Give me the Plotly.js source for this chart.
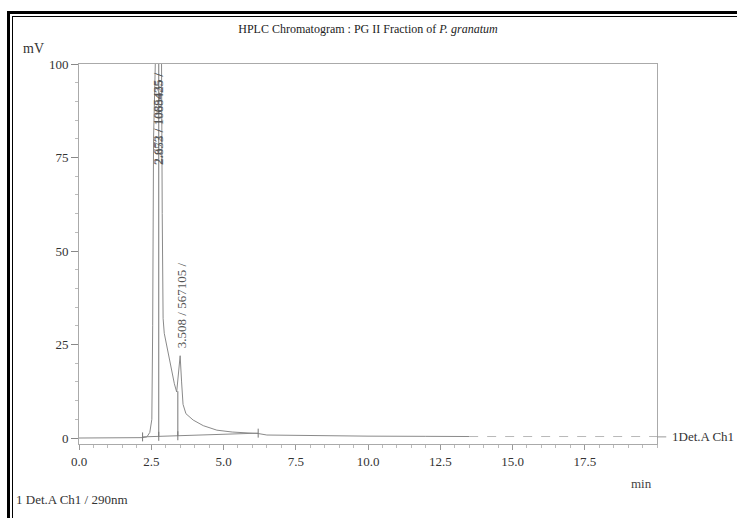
<!DOCTYPE html>
<html>
<head>
<meta charset="utf-8">
<script src="https://cdn.plot.ly/plotly-3.0.1.min.js"></script>
<style>
html,body{margin:0;padding:0;background:#fff;}
#wrap{position:relative;width:737px;height:518px;overflow:hidden;}
#chart{width:737px;height:518px;}
.fr{position:absolute;background:#000;}
</style>
</head>
<body>
<div id="wrap">
<div id="chart"></div>
<div class="fr" style="left:7px;top:11px;width:3px;height:507px;"></div>
<div class="fr" style="left:12px;top:16px;width:1px;height:502px;"></div>
<div class="fr" style="left:7px;top:11px;width:730px;height:3px;"></div>
<div class="fr" style="left:12px;top:16px;width:725px;height:1px;"></div>
</div>
<script>
// Chromatogram trace (time in min, signal in mV)
const timeMin = [0, 1.0, 2.0, 2.2, 2.35, 2.45, 2.52, 2.55, 2.58, 2.62, 2.7, 2.8, 2.85, 2.88, 2.91, 2.95, 3.05, 3.2, 3.3, 3.38, 3.44, 3.5, 3.55, 3.6, 3.7, 3.95, 4.3, 4.77, 5.3, 5.9, 6.2, 6.5, 8.0, 10.0, 12.0, 13.5];
const signalMv = [0, 0, 0, 0.1, 0.3, 1.5, 5, 30, 80, 115, 120, 115, 110, 60, 32, 28, 24, 18, 14.5, 12.3, 17, 22, 15, 9, 6.5, 4.8, 3.3, 2.1, 1.6, 1.3, 1.2, 0.8, 0.6, 0.5, 0.45, 0.4];
// faint dashed tail of the trace
const tailTime = [13.5, 20];
const tailMv = [0.4, 0.4];
// integration baseline
const baseTime = [2.2, 6.2];
const baseMv = [0.3, 1.3];
// peak drop lines
const dropTime = [2.76, 3.42];
const dropTop = [120, 12.5];
const dropBottom = [0.45, 0.6];
// integration marks
const markTime = [2.2, 2.76, 3.42, 6.2];
const markMv = [0.3, 0.45, 0.6, 1.3];
// peak labels
const peakLabelTime = [2.72, 2.77, 3.53];
const peakLabelMv = [72.5, 72.5, 23.5];
const peakLabels = ["2.672 / 1085435 /", "2.853 / 1068425 /", "3.508 / 567105 /"];
// axis ticks
const xTickVals = [0, 2.5, 5, 7.5, 10, 12.5, 15, 17.5];
const xTickText = ["0.0", "2.5", "5.0", "7.5", "10.0", "12.5", "15.0", "17.5"];
const yTickVals = [0, 25, 50, 75, 100];
const yTickText = ["0", "25", "50", "75", "100"];

const gray = "#8a8a8a";
const traces = [];
traces.push({x: timeMin, y: signalMv, mode: "lines", line: {color: gray, width: 1}, hoverinfo: "skip"});
traces.push({x: tailTime, y: tailMv, mode: "lines", line: {color: "#b8b8b8", width: 1, dash: "dash"}, hoverinfo: "skip"});
traces.push({x: baseTime, y: baseMv, mode: "lines", line: {color: gray, width: 1}, hoverinfo: "skip"});
const dx = [], dy = [];
dropTime.forEach((t, i) => { dx.push(t, t, null); dy.push(dropBottom[i], dropTop[i], null); });
markTime.forEach((t, i) => { dx.push(t, t, null); dy.push(markMv[i] - 1.2, markMv[i] + 1.2, null); });
traces.push({x: dx, y: dy, mode: "lines", line: {color: "#777", width: 1}, hoverinfo: "skip", connectgaps: false});

const serif = "Liberation Serif, Times New Roman, serif";
const annotations = peakLabels.map((s, i) => ({
  x: peakLabelTime[i], y: peakLabelMv[i], xref: "x", yref: "y",
  text: s, textangle: -90, showarrow: false, xanchor: "center", yanchor: "bottom",
  font: {family: serif, size: 13, color: "#555"}
}));
annotations.push({xref: "paper", yref: "paper", x: -0.1003, y: 1.042, xanchor: "left", yanchor: "middle", text: "mV", showarrow: false, font: {family: serif, size: 14, color: "#333"}});
annotations.push({xref: "paper", yref: "paper", x: 0.974, y: -0.105, xanchor: "center", yanchor: "middle", text: "min", showarrow: false, font: {family: serif, size: 13, color: "#444"}});
annotations.push({xref: "paper", yref: "paper", x: -0.1125, y: -0.147, xanchor: "left", yanchor: "middle", text: "1 Det.A Ch1 / 290nm", showarrow: false, font: {family: serif, size: 13, color: "#333"}});
annotations.push({xref: "paper", yref: "y", x: 1.022, y: 0.3, xanchor: "left", yanchor: "middle", text: "1Det.A Ch1", showarrow: false, font: {family: serif, size: 13, color: "#333"}});

const layout = {
  width: 737, height: 518,
  margin: {l: 79, r: 80, t: 64, b: 74},
  paper_bgcolor: "#fff", plot_bgcolor: "#fff",
  showlegend: false,
  title: {text: "HPLC Chromatogram : PG II Fraction of <i>P. granatum</i>", x: 0.4993, xref: "container", y: 0.944, yref: "container", yanchor: "middle", xanchor: "center", font: {family: serif, size: 12, color: "#222"}},
  xaxis: {range: [0, 20], tickvals: xTickVals, ticktext: xTickText, showgrid: false, zeroline: false,
    showline: true, linecolor: "#aaa", linewidth: 1, mirror: true, ticks: "outside", ticklen: 5, tickcolor: "#999",
    minor: {dtick: 0.5, ticks: "outside", ticklen: 3, tickcolor: "#bbb", showgrid: false},
    tickfont: {family: serif, size: 13, color: "#333"}},
  yaxis: {range: [-1.6, 100], tickvals: yTickVals, ticktext: yTickText, showgrid: false, zeroline: false,
    showline: true, linecolor: "#aaa", linewidth: 1, mirror: true, ticks: "outside", ticklen: 7, tickcolor: "#888",
    minor: {tickvals: [5,10,15,20,30,35,40,45,55,60,65,70,80,85,90,95], ticks: "outside", ticklen: 3, tickcolor: "#bbb", showgrid: false},
    tickfont: {family: serif, size: 13, color: "#333"}},
  shapes: [
    {type: "line", xref: "paper", yref: "y", x0: 1.0, x1: 1.016, y0: 0.3, y1: 0.3, line: {color: "#999", width: 1}}
  ],
  annotations: annotations
};
Plotly.newPlot("chart", traces, layout, {displayModeBar: false, staticPlot: true});
</script>
</body>
</html>
